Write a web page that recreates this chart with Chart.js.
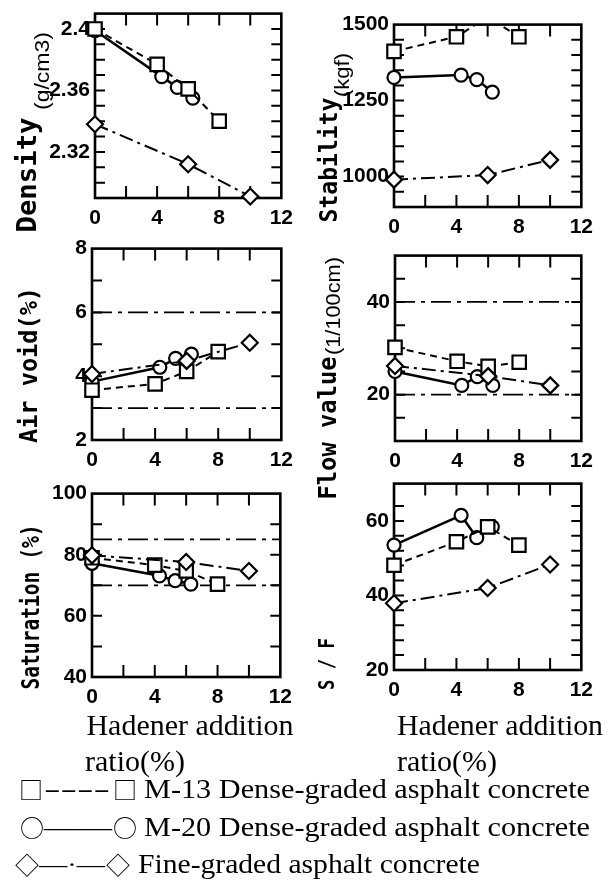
<!DOCTYPE html>
<html>
<head>
<meta charset="utf-8">
<script src="https://cdn.jsdelivr.net/npm/chart.js@4.4.1/dist/chart.umd.min.js"></script>
<style>
html, body { margin: 0; padding: 0; background: #fff; width: 616px; height: 884px; overflow: hidden; position: relative; }
canvas { position: absolute; }
.lbl { position: absolute; white-space: nowrap; line-height: 1; color: #000; }
</style>
</head>
<body>
<script>
// x positions (hardener addition ratio, %)
var xTickLabels = [0, 4, 8, 12];
var m13X = [0, 4, 6, 8];
var m20X = [0, 4.3, 5.3, 6.3];
var fineX = [0, 6, 10];
var limitX = [0, 12];

var densityM13 = [2.400, 2.377, 2.361, 2.340];
var densityM20 = [2.399, 2.369, 2.362, 2.355];
var densityFine = [2.338, 2.312, 2.291];
var densityTicks = [2.32, 2.36, 2.4];

var stabilityM13 = [1412, 1460, 1525, 1460];
var stabilityM20 = [1326, 1334, 1319, 1278];
var stabilityFine = [990, 1005, 1055];
var stabilityTicks = [1000, 1250, 1500];

var airVoidM13 = [3.56, 3.76, 4.15, 4.77];
var airVoidM20 = [3.83, 4.28, 4.56, 4.69];
var airVoidFine = [4.07, 4.48, 5.05];
var airVoidLimits = [3, 6];
var airVoidTicks = [2, 4, 6, 8];

var flowM13 = [30.2, 27.2, 26.1, 27.0];
var flowM20 = [25.0, 22.0, 23.9, 22.0];
var flowFine = [26.2, 24.0, 22.0];
var flowLimits = [20, 40];
var flowTicks = [20, 40];

var saturationM13 = [79.0, 76.6, 74.7, 70.4];
var saturationM20 = [77.2, 73.1, 71.5, 70.4];
var saturationFine = [79.8, 77.6, 74.7];
var saturationLimits = [70, 85];
var saturationTicks = [40, 60, 80, 100];

var sfM13 = [48.1, 54.4, 58.4, 53.5];
var sfM20 = [53.5, 61.5, 55.5, 58.4];
var sfFine = [37.9, 42.0, 48.3];
var sfTicks = [20, 40, 60];

Chart.defaults.font.family = 'Liberation Sans';
Chart.defaults.color = '#000';

var PAD_L = 70, PAD_T = 14, PAD_R = 14, PAD_B = 36;
var tickFont = { family: 'Liberation Sans', size: 21, weight: 'bold' };

function pts(xs, ys) {
  return xs.map(function (x, i) { return { x: x, y: ys[i] }; });
}

var styles = {
  m13: { pointStyle: 'rect', pointRadius: 9.5, borderDash: [7, 5], borderWidth: 2 },
  m20: { pointStyle: 'circle', pointRadius: 6.5, borderDash: [], borderWidth: 2.5 },
  fine: { pointStyle: 'rectRot', pointRadius: 8, borderDash: [14, 5, 3, 5], borderWidth: 2 }
};

function series(xs, ys, st) {
  return Object.assign({
    data: pts(xs, ys),
    borderColor: '#000',
    pointBackgroundColor: '#fff',
    pointBorderColor: '#000',
    pointBorderWidth: 2.2,
    clip: { left: 16, right: 16, top: 0, bottom: 16 }
  }, st);
}

function limitLine(v) {
  return { data: pts(limitX, [v, v]), borderColor: '#000', borderWidth: 1.8, borderDash: [20, 6, 4, 6], pointRadius: 0 };
}

// box round the plot and inward tick marks on all four sides
var frame = {
  id: 'frame',
  beforeDatasetsDraw: function (chart) {
    var ctx = chart.ctx, a = chart.chartArea, x = chart.scales.x, y = chart.scales.y;
    ctx.save();
    ctx.strokeStyle = '#000';
    ctx.lineWidth = 2;
    ctx.beginPath();
    x.ticks.forEach(function (t) {
      if (t.value <= x.min + 1e-9 || t.value >= x.max - 1e-9) return;
      var px = x.getPixelForValue(t.value);
      ctx.moveTo(px, a.bottom); ctx.lineTo(px, a.bottom - 12);
      ctx.moveTo(px, a.top); ctx.lineTo(px, a.top + 12);
    });
    var eps = (y.max - y.min) * 1e-6;
    y.ticks.forEach(function (t) {
      if (t.value <= y.min + eps || t.value >= y.max - eps) return;
      var py = y.getPixelForValue(t.value);
      ctx.moveTo(a.left, py); ctx.lineTo(a.left + 10, py);
      ctx.moveTo(a.right, py); ctx.lineTo(a.right - 10, py);
    });
    ctx.stroke();
    ctx.lineWidth = 2.6;
    ctx.strokeRect(a.left, a.top, a.right - a.left, a.bottom - a.top);
    ctx.restore();
  }
};

function panel(box, yMin, yMax, yStep, yLabels, m13, m20, fine, limits) {
  var l = box[0], t = box[1], r = box[2], b = box[3];
  var cv = document.createElement('canvas');
  cv.width = r - l + PAD_L + PAD_R;
  cv.height = b - t + PAD_T + PAD_B;
  cv.style.left = (l - PAD_L) + 'px';
  cv.style.top = (t - PAD_T) + 'px';
  document.body.appendChild(cv);

  var sets = [series(fineX, fine, styles.fine), series(m13X, m13, styles.m13), series(m20X, m20, styles.m20)];
  (limits || []).forEach(function (v) { sets.push(limitLine(v)); });

  new Chart(cv, {
    type: 'line',
    data: { datasets: sets },
    options: {
      responsive: false,
      animation: false,
      layout: { padding: { top: PAD_T, right: PAD_R, left: 0, bottom: 0 } },
      plugins: { legend: { display: false }, tooltip: { enabled: false } },
      scales: {
        x: {
          type: 'linear', min: 0, max: 12,
          grid: { display: false, drawTicks: false },
          border: { display: false },
          ticks: {
            stepSize: 2, autoSkip: false, maxRotation: 0, padding: 8, color: '#000', font: tickFont,
            callback: function (v) { return xTickLabels.indexOf(v) >= 0 ? String(v) : ''; }
          },
          afterFit: function (s) { s.height = PAD_B; }
        },
        y: {
          type: 'linear', min: yMin, max: yMax,
          grid: { display: false, drawTicks: false },
          border: { display: false },
          ticks: {
            stepSize: yStep, autoSkip: false, padding: 5, color: '#000', font: tickFont,
            callback: function (v) {
              var m = yLabels.find(function (q) { return Math.abs(q - v) < yStep / 100; });
              return m === undefined ? '' : String(m);
            }
          },
          afterFit: function (s) { s.width = PAD_L; }
        }
      }
    },
    plugins: [frame]
  });
}

panel([95, 10, 287, 198], 2.29, 2.41, 0.01, densityTicks, densityM13, densityM20, densityFine);
panel([394, 21, 587, 207], 900, 1500, 50, stabilityTicks, stabilityM13, stabilityM20, stabilityFine);
panel([92, 245, 287, 440], 2, 8, 1, airVoidTicks, airVoidM13, airVoidM20, airVoidFine, airVoidLimits);
panel([395, 252, 587, 441], 10, 50, 5, flowTicks, flowM13, flowM20, flowFine, flowLimits);
panel([92, 490, 286, 677], 40, 100, 10, saturationTicks, saturationM13, saturationM20, saturationFine, saturationLimits);
panel([394, 480, 587, 670], 20, 70, 4, sfTicks, sfM13, sfM20, sfFine);

// text: axis titles and legend, each stretched to the length it has in the picture
var MONO = '"DejaVu Sans Mono"', SANS = '"Liberation Sans"', SERIF = '"Liberation Serif"', CJK = '"Noto Sans CJK JP"';
var labels = [
  { text: 'Density', font: 'bold 27px ' + MONO, cx: 26, cy: 175, len: 115, rot: -90 },
  { text: '(g/cm3)', font: '21px ' + SANS, cx: 41, cy: 71, len: 78, rot: -90 },
  { text: 'Stability', font: 'bold 24px ' + MONO, cx: 329, cy: 160, len: 125, rot: -90 },
  { text: '(kgf)', font: '20px ' + SANS, cx: 342, cy: 75, len: 44, rot: -90 },
  { text: 'Air void(%)', font: 'bold 24px ' + MONO, cx: 29, cy: 365, len: 156, rot: -90 },
  { text: 'Flow value', font: 'bold 24px ' + MONO, cx: 328, cy: 428, len: 143, rot: -90 },
  { text: '(1/100cm)', font: '20px ' + SANS, cx: 333, cy: 306, len: 98, rot: -90 },
  { text: 'Saturation (%)', font: 'bold 25px ' + MONO, cx: 30, cy: 607, len: 165, rot: -90 },
  { text: 'S / F', font: 'bold 22px ' + MONO, cx: 327, cy: 664, len: 52, rot: -90 },
  { text: 'Hadener addition', font: '30px ' + SERIF, cx: 190, cy: 725, len: 207, rot: 0 },
  { text: 'ratio(%)', font: '30px ' + SERIF, cx: 135, cy: 761, len: 100, rot: 0 },
  { text: 'Hadener addition', font: '30px ' + SERIF, cx: 500, cy: 725, len: 206, rot: 0 },
  { text: 'ratio(%)', font: '30px ' + SERIF, cx: 447, cy: 761, len: 100, rot: 0 },
  { text: '□', font: '24px ' + CJK, cx: 31, cy: 789 },
  { text: '----', font: '24px ' + SERIF, cx: 77, cy: 789, len: 66, rot: 0 },
  { text: '□', font: '24px ' + CJK, cx: 125, cy: 789 },
  { text: 'M-13 Dense-graded asphalt concrete', font: '28px ' + SERIF, cx: 367, cy: 789, len: 446, rot: 0 },
  { text: '○', font: '24px ' + CJK, cx: 32, cy: 827 },
  { text: '——', font: '24px ' + SERIF, cx: 78, cy: 827, len: 68, rot: 0 },
  { text: '○', font: '24px ' + CJK, cx: 125, cy: 827 },
  { text: 'M-20 Dense-graded asphalt concrete', font: '28px ' + SERIF, cx: 367, cy: 827, len: 446, rot: 0 },
  { text: '◇', font: '24px ' + CJK, cx: 27, cy: 864 },
  { text: '—·—', font: '24px ' + SERIF, cx: 72, cy: 864, len: 66, rot: 0 },
  { text: '◇', font: '24px ' + CJK, cx: 118, cy: 864 },
  { text: 'Fine-graded asphalt concrete', font: '28px ' + SERIF, cx: 309, cy: 864, len: 342, rot: 0 }
];

labels.forEach(function (s) {
  var d = document.createElement('div');
  d.className = 'lbl';
  d.textContent = s.text;
  d.style.font = s.font;
  d.style.lineHeight = '1';
  document.body.appendChild(d);
  var w = d.getBoundingClientRect().width;
  var k = s.len ? s.len / w : 1;
  d.style.left = s.cx + 'px';
  d.style.top = s.cy + 'px';
  d.style.transform = 'translate(-50%,-50%) rotate(' + (s.rot || 0) + 'deg) scaleX(' + k + ')';
});
</script>
</body>
</html>
